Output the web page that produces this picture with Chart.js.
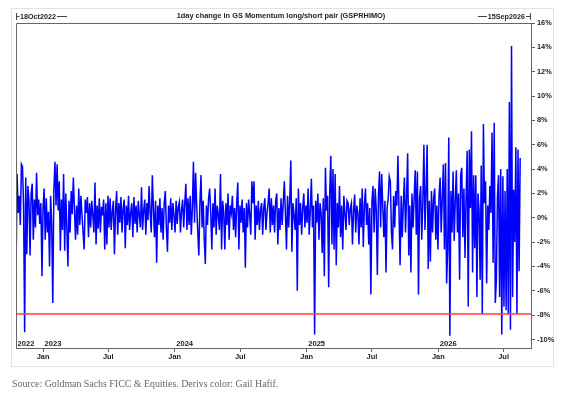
<!DOCTYPE html>
<html>
<head>
<meta charset="utf-8">
<script src="https://cdn.jsdelivr.net/npm/chart.js@4.4.1/dist/chart.umd.min.js"></script>
<style>
  html,body{margin:0;padding:0;background:#fff;}
  #wrap{position:relative;width:564px;height:400px;}
  #c{position:absolute;left:0;top:0;}
  #src{position:absolute;left:12px;top:378px;font-family:"Liberation Serif","Times New Roman",serif;font-size:9.9px;color:#666;white-space:nowrap;}
</style>
</head>
<body>
<div id="wrap">
<canvas id="c" width="564" height="400"></canvas>
<div id="src">Source: Goldman Sachs FICC &amp; Equities. Derivs color: Gail Hafif.</div>
</div>
<script>
// ---- data ----
const title = "1day change in GS Momentum long/short pair (GSPRHIMO)";
const startLabel = "18Oct2022";
const endLabel = "15Sep2026";
const startDate = "2022-10-18";
const endDate = "2026-09-15";
const sampleStepDays = 3; // one reading every 3 calendar days
const monthTickDates = ["2023-01-01","2023-07-01","2024-01-01","2024-07-01","2025-01-01","2025-07-01","2026-01-01","2026-07-01"];
const monthTickLabels = ["Jan","Jul","Jan","Jul","Jan","Jul","Jan","Jul"];
const yearLabels = ["2022","2023","2024","2025","2026"];
const yearLabelDates = ["2022-10-18","2023-01-01","2024-01-01","2025-01-01","2026-01-01"];
const yTickValues = [16,14,12,10,8,6,4,2,0,-2,-4,-6,-8,-10];
const yMin = -10.7, yMax = 16;
const thresholdLevel = -7.9;
const changePct = [
// 2022 Q4 - 2023 Q1
-4.8,3.6,0.4,1.8,-0.6,4.4,4.2,1.0,-9.4,3.3,
-3.0,2.6,1.4,-3.1,2.0,2.8,-1.8,1.5,-0.8,3.7,
0.2,1.5,-0.5,1.2,-4.8,0.8,2.4,-1.8,1.6,-1.2,
0.5,-4.0,1.8,-0.6,-7.0,2.2,4.6,1.0,4.4,0.6,
3.0,-2.7,1.5,-1.0,3.6,-2.7,2.0,-0.8,-4.0,1.4,
-1.2,2.2,0.3,3.3,0.8,-1.8,1.0,-1.4,2.4,-0.6,
1.8,0.2,-1.2,-2.6,1.5,0.4,1.7,-1.6,1.2,-0.8,
1.4,0.2,-1.2,2.9,-2.2,1.0,-0.9,1.6,-1.2,0.9,
// 2023
0.2,1.5,-2.6,1.2,-2.2,1.8,-0.8,1.6,-1.0,0.5,
1.4,-3.0,0.6,2.2,-1.4,1.2,-0.4,1.7,-1.2,0.8,
1.5,-2.5,1.0,-0.6,1.8,-1.0,0.4,1.2,-1.6,1.7,
-0.5,1.0,-1.2,1.4,0.2,-0.8,2.5,-1.0,0.6,1.5,
-1.4,1.2,-0.2,2.6,0.4,-1.2,3.5,0.8,-1.6,1.4,
-3.7,1.0,-0.6,1.6,-1.2,0.8,-1.8,1.2,2.2,-0.8,
-2.8,1.0,-0.4,1.6,-1.0,1.2,0.2,-1.2,1.4,-0.5,
0.9,1.3,-1.2,0.6,1.5,-0.8,1.2,2.8,-1.0,1.6,
// 2024
-0.6,1.8,-1.4,0.8,4.6,-0.4,3.7,1.0,-1.2,-3.1,
1.2,3.5,-0.8,1.4,-1.8,-3.8,1.0,-0.6,1.6,2.4,
0.4,-2.6,1.2,-0.8,2.4,-1.4,1.0,0.2,-1.0,3.6,
-2.6,1.4,0.4,-2.6,1.2,-0.6,2.0,-1.8,1.0,0.4,
1.8,-1.0,0.8,-1.6,1.2,2.9,-2.6,1.0,-0.4,1.5,
-1.2,0.8,-4.1,1.2,-0.8,1.5,0.2,-1.4,3.0,1.2,
3.0,-1.8,1.0,-0.6,1.4,-1.0,0.6,1.2,-1.4,0.8,
1.6,-1.0,0.4,1.2,2.4,-1.2,1.6,-0.6,1.0,-1.2,
// 2024 Q4 - 2025 Q1
1.4,2.0,-2.2,0.8,-1.0,1.6,-0.6,1.2,3.0,0.4,
-2.6,1.8,-0.8,1.4,4.7,-2.8,1.2,0.2,-1.0,1.6,
-6.0,2.4,-0.6,1.2,-1.4,0.8,2.0,-0.8,1.0,-0.4,
2.4,-1.4,0.6,3.2,-0.8,1.0,-9.6,1.4,-0.4,2.0,
-1.8,1.2,0.4,-2.9,1.6,-4.8,4.1,0.6,1.8,-5.7,
2.2,5.1,-2.2,4.0,-2.6,3.6,-3.9,1.2,-0.8,2.6,
-1.6,1.0,-2.6,1.8,0.4,-1.0,1.4,1.2,-0.6,0.8,
1.2,-2.2,0.6,1.9,-1.2,1.0,0.4,-2.2,1.6,-0.8,
// 2025
2.4,-2.4,1.0,2.4,-0.6,1.2,-2.2,0.8,-6.3,1.4,
2.6,-1.2,2.4,0.6,-4.7,1.8,3.8,-0.8,3.6,1.0,
-1.6,1.4,-4.5,0.8,1.6,3.4,3.0,-1.2,-2.6,1.8,
-0.8,2.2,1.0,5.1,0.6,-3.9,1.8,-1.6,1.2,3.3,
-1.2,1.6,5.3,-3.1,1.0,-4.5,2.0,-0.8,1.6,3.9,
-1.4,3.8,-6.3,1.6,2.6,-1.8,1.2,6.0,-1.0,2.2,
6.0,-4.2,1.4,-3.6,2.2,-1.2,1.6,2.4,-1.8,1.0,
-2.6,1.8,3.3,-1.2,1.6,4.4,-2.6,4.5,-5.4,-2.6,
// 2026
6.6,-9.7,2.2,-1.2,3.8,-1.9,1.4,3.9,-1.2,2.0,
-5.1,3.5,4.1,-1.6,2.4,-3.3,1.6,5.5,-7.3,5.6,
0.8,7.1,-4.5,3.5,-2.5,3.5,-6.5,2.0,0.6,-5.1,
4.3,-7.9,7.7,1.2,3.0,-5.4,1.0,-1.0,2.6,0.4,
7.0,-3.7,7.8,-7.0,-5.1,1.8,3.5,-6.5,4.0,-9.6,
3.4,-7.3,2.2,-7.6,4.0,-7.9,9.5,-9.2,14.1,-6.5,
2.3,-2.0,5.8,-7.9,5.6,-4.4,4.9
];

// ---- helpers ----
const DAY = 86400000;
const t0 = Date.parse(startDate + "T00:00:00Z");
const dayOf = s => (Date.parse(s + "T00:00:00Z") - t0) / DAY;
const xMax = dayOf(endDate);
const seriesPoints = changePct.map((v, i) => ({ x: i * sampleStepDays, y: v }));
const monthTickDays = monthTickDates.map(dayOf);

const FONT = '"Liberation Sans", Arial, sans-serif';
const TXT = '#222';
const AX = '#666';

const decor = {
  id: 'decor',
  beforeDraw(chart) {
    const ctx = chart.ctx;
    ctx.save();
    ctx.strokeStyle = '#e2e2e2';
    ctx.lineWidth = 1;
    ctx.strokeRect(11.5, 8.5, 542, 358);
    ctx.restore();
  },
  afterDraw(chart) {
    const ctx = chart.ctx, a = chart.chartArea, xs = chart.scales.x;
    ctx.save();
    // plot frame (left + top)
    ctx.strokeStyle = AX;
    ctx.lineWidth = 1;
    ctx.beginPath();
    ctx.moveTo(a.left + 0.5, a.bottom);
    ctx.lineTo(a.left + 0.5, a.top + 0.5);
    ctx.lineTo(a.right, a.top + 0.5);
    ctx.stroke();
    // title
    ctx.fillStyle = TXT;
    ctx.font = 'bold 7.4px ' + FONT;
    ctx.textAlign = 'center';
    ctx.textBaseline = 'alphabetic';
    ctx.fillText(title, 281, 18);
    // date range markers
    ctx.font = 'bold 7.2px ' + FONT;
    ctx.textAlign = 'left';
    const y0 = 16.5;
    const wL = ctx.measureText(startLabel).width;
    const xl = a.left + 4;
    ctx.fillText(startLabel, xl, 19);
    ctx.strokeStyle = '#444';
    ctx.beginPath();
    ctx.moveTo(a.left + 0.5, 13); ctx.lineTo(a.left + 0.5, 20);
    ctx.moveTo(a.left, y0); ctx.lineTo(xl - 0.5, y0);
    ctx.moveTo(xl + wL + 1, y0); ctx.lineTo(xl + wL + 11, y0);
    ctx.stroke();
    const wR = ctx.measureText(endLabel).width;
    const xr = a.right - 6 - wR;
    ctx.fillText(endLabel, xr, 19);
    ctx.beginPath();
    ctx.moveTo(a.right - 0.5, 13); ctx.lineTo(a.right - 0.5, 20);
    ctx.moveTo(a.right, y0); ctx.lineTo(a.right - 5, y0);
    ctx.moveTo(xr - 1, y0); ctx.lineTo(xr - 10, y0);
    ctx.stroke();
    // year labels inside the plot
    ctx.font = 'bold 7.6px ' + FONT;
    ctx.fillStyle = TXT;
    yearLabels.forEach((lab, i) => {
      const px = xs.getPixelForValue(dayOf(yearLabelDates[i]));
      ctx.fillText(lab, px + 1.5, a.bottom - 2.5);
    });
    ctx.restore();
  }
};

new Chart(document.getElementById('c'), {
  type: 'line',
  data: {
    datasets: [
      {
        label: 'threshold',
        data: [{ x: 0, y: thresholdLevel }, { x: xMax, y: thresholdLevel }],
        borderColor: '#ff3b3b',
        borderWidth: 1.5,
        pointRadius: 0,
        order: 0
      },
      {
        label: 'GSPRHIMO 1d change',
        data: seriesPoints,
        borderColor: '#0000ff',
        borderWidth: 1.5,
        pointRadius: 0,
        tension: 0,
        order: 1
      }
    ]
  },
  options: {
    responsive: false,
    animation: false,
    devicePixelRatio: 1,
    layout: { padding: { left: 16, top: 23, right: 0, bottom: 0 } },
    plugins: { legend: { display: false }, tooltip: { enabled: false }, title: { display: false } },
    scales: {
      x: {
        type: 'linear',
        min: 0,
        max: xMax,
        afterBuildTicks: s => { s.ticks = monthTickDays.map(v => ({ value: v })); },
        afterFit: s => { s.height = 52; },
        ticks: {
          autoSkip: false,
          maxRotation: 0,
          padding: 1,
          color: TXT,
          font: { family: FONT, size: 7.4, weight: 'bold' },
          callback: (v, i) => monthTickLabels[i]
        },
        grid: { drawOnChartArea: false, drawTicks: true, tickLength: 4, color: AX },
        border: { display: true, color: AX, width: 1 }
      },
      y: {
        position: 'right',
        min: yMin,
        max: yMax,
        afterBuildTicks: s => { s.ticks = yTickValues.map(v => ({ value: v })); },
        afterFit: s => { s.width = 33; },
        ticks: {
          padding: 2,
          color: TXT,
          font: { family: FONT, size: 7.4, weight: 'bold' },
          callback: v => v + '%'
        },
        grid: { drawOnChartArea: false, drawTicks: true, tickLength: 4, color: AX },
        border: { display: true, color: AX, width: 1 }
      }
    }
  },
  plugins: [decor]
});
</script>
</body>
</html>
